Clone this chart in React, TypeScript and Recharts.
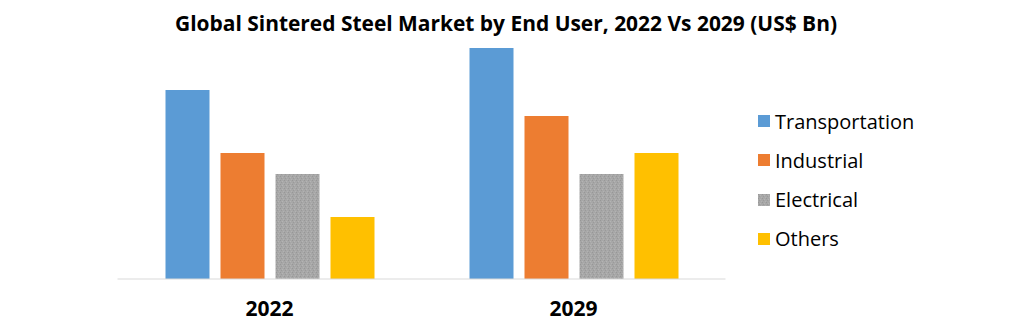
import { BarChart, Bar, XAxis, YAxis } from 'recharts'

const years = ['2022', '2029']
const transportation = [18.9, 23.1]
const industrial = [12.6, 16.3]
const electrical = [10.5, 10.5]
const others = [6.2, 12.6]

const seriesNames = ['Transportation', 'Industrial', 'Electrical', 'Others']
const seriesFills = ['#5b9bd5', '#ed7d31', 'url(#grayDots)', '#ffc000']

const data = years.map((year, i) => ({
  year,
  Transportation: transportation[i],
  Industrial: industrial[i],
  Electrical: electrical[i],
  Others: others[i],
}))

const YearTick = ({ x, y, payload }: any) => (
  <text x={x} y={y} dy={36.5} textAnchor="middle" fontFamily="'Open Sans', sans-serif"
    fontWeight={700} fontSize={21} fill="#000">
    {payload.value}
  </text>
)

// legend drawn beside the chart so it doesn't eat into the plot width
const LegendBox = () => (
  <div style={{ position: 'absolute', left: 758, top: 101.4, width: 220,
    fontFamily: "'Open Sans', sans-serif", fontSize: 20, color: '#000' }}>
    {seriesNames.map((name, i) => (
      <div key={name} style={{ display: 'flex', alignItems: 'center', height: 39.3 }}>
        <svg width={12} height={12} style={{ marginRight: 5, display: 'block' }}>
          <rect width={12} height={12} fill={seriesFills[i]} />
        </svg>
        <span style={{ lineHeight: 'normal' }}>{name}</span>
      </div>
    ))}
  </div>
)

export default function App() {
  return (
    <div style={{ position: 'absolute', left: 0, top: 0, width: 1032, height: 322, background: '#fff' }}>
      <svg width={0} height={0} style={{ position: 'absolute' }}>
        <defs>
          <pattern id="grayDots" width={4} height={4} patternUnits="userSpaceOnUse">
            <rect width={4} height={4} fill="#a7a7a7" />
            <rect x={0} y={0} width={1} height={1} fill="#979797" />
            <rect x={2} y={1} width={1} height={1} fill="#b4b4b4" />
            <rect x={1} y={2} width={1} height={1} fill="#9a9a9a" />
            <rect x={3} y={3} width={1} height={1} fill="#b2b2b2" />
          </pattern>
        </defs>
      </svg>
      <svg width={1032} height={40} style={{ position: 'absolute', left: 0, top: 0 }}>
        <text x={506} y={31} textAnchor="middle" textLength={662} lengthAdjust="spacingAndGlyphs"
          fontFamily="'Open Sans', sans-serif" fontWeight={700} fontSize={21} fill="#000">
          Global Sintered Steel Market by End User, 2022 Vs 2029 (US$ Bn)
        </text>
      </svg>
      <BarChart width={1032} height={322} data={data} barSize={44} barGap={11}
        margin={{ top: 29, right: 306.5, bottom: 0, left: 117.5 }}
        style={{ position: 'absolute', left: 0, top: 0 }}>
        <XAxis dataKey="year" height={43} tickLine={false} tickSize={0} tickMargin={0}
          axisLine={{ stroke: '#d9d9d9', strokeWidth: 1 }} tick={<YearTick />} />
        <YAxis hide domain={[0, 25]} />
        {seriesNames.map((name, i) => (
          <Bar key={name} dataKey={name} name={name} fill={seriesFills[i]} isAnimationActive={false} />
        ))}
      </BarChart>
      <LegendBox />
    </div>
  )
}
